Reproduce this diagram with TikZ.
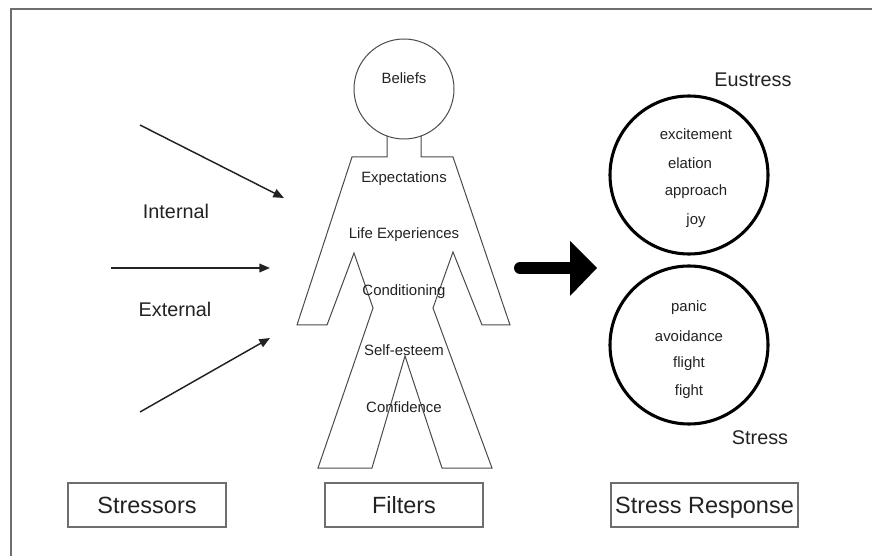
\documentclass[tikz,border=0pt]{standalone}
\usepackage{fontspec}
\setmainfont{Liberation Sans}
\usetikzlibrary{arrows.meta}
\definecolor{ink}{HTML}{222222}
\definecolor{outline}{HTML}{4A4A4A}
\definecolor{framegray}{HTML}{6E6E6E}
\tikzset{
  lbl/.style={text=ink, inner sep=0pt, font=\fontsize{14.85}{17}\selectfont},
  small/.style={text=ink, inner sep=0pt, font=\fontsize{11.2}{13}\selectfont},
  boxlbl/.style={draw=framegray, line width=0.8pt, text=ink, inner sep=0pt,
     text height=12.6pt, text depth=0pt,
     minimum height=33pt, font=\fontsize{17.6}{20}\selectfont},
  respcircle/.style={draw=black, line width=2.3pt, circle, minimum size=118.5pt, inner sep=0pt},
  headcircle/.style={draw=outline, line width=0.75pt, circle, minimum size=75pt, inner sep=0pt},
  stressarrow/.style={draw=ink, line width=1.1pt, -{Triangle[length=8pt,width=6.5pt]}},
  body/.style={draw=outline, line width=0.75pt, line join=miter}
}
\begin{document}
\begin{tikzpicture}[x=0.75pt,y=-0.75pt]
\useasboundingbox (0,0) rectangle (872,556);
% frame
\draw[framegray, line width=0.9pt] (11,556) -- (11,9) -- (872,9);

% stressor arrows
\coordinate (s1a) at (140,125); \coordinate (s1b) at (284,198);
\coordinate (s2a) at (111,268); \coordinate (s2b) at (270,268);
\coordinate (s3a) at (140,412); \coordinate (s3b) at (270,338);
\draw[stressarrow] (s1a) -- (s1b);
\draw[stressarrow] (s2a) -- (s2b);
\draw[stressarrow] (s3a) -- (s3b);
\node[lbl] (internal) at (176,211) {Internal};
\node[lbl] (external) at (175,309) {External};

% figure
\node[headcircle] (head) at (404,89) {};
\draw[body] (387,136) -- (387,157) -- (352,157) -- (297,325) -- (327,325)
  -- (354,253) -- (373,308) -- (318,468) -- (372,468) -- (405,356)
  -- (442,468) -- (492,468) -- (433,308) -- (453,252) -- (482,325)
  -- (510,325) -- (453,157) -- (421,157) -- (421,136);
\node[small] (beliefs) at (404,78) {Beliefs};
\node[small] (expect) at (404,179) {Expectations};
\node[small] (life) at (404,235) {Life Experiences};
\node[small] (cond) at (404,292) {Conditioning};
\node[small] (self) at (404,350) {Self-esteem};
\node[small] (conf) at (404,407) {Confidence};

% big arrow
\coordinate (ba) at (520,268); \coordinate (bb) at (571,268);
\draw[black, line width=9pt, line cap=round] (ba) -- (bb);
\fill[black] (570,241) -- (597,268) -- (570,296) -- cycle;

% response circles
\node[respcircle] (eu) at (689,175) {};
\node[respcircle] (st) at (689,345) {};
\node[lbl] (eulbl) at (753,80) {Eustress};
\node[lbl] (stlbl) at (760,438) {Stress};
\node[small] at (696,134) {excitement};
\node[small] at (690,163) {elation};
\node[small] at (696,192) {approach};
\node[small] at (696,221) {joy};
\node[small] at (689,308) {panic};
\node[small] at (689,336) {avoidance};
\node[small] at (689,364) {flight};
\node[small] at (689,392) {fight};

% bottom boxes
\node[boxlbl, minimum width=118.5pt] (stressors) at (147,505) {Stressors};
\node[boxlbl, minimum width=118.5pt] (filters) at (404,505) {Filters};
\node[boxlbl, minimum width=140.25pt] (response) at (704.5,505) {Stress Response};
\end{tikzpicture}
\end{document}
